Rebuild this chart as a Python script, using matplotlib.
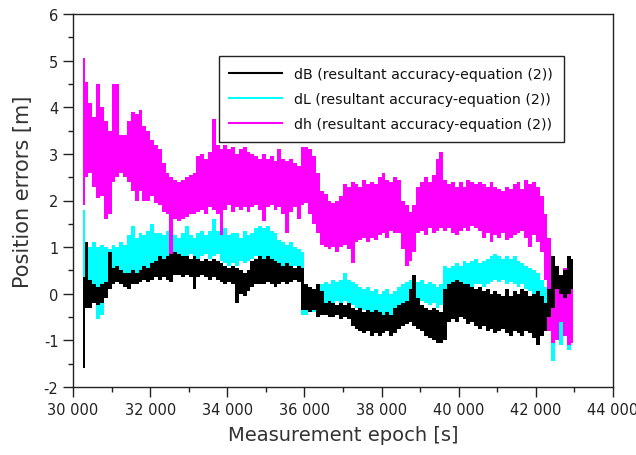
import matplotlib

matplotlib.use("Agg")
import matplotlib.pyplot as plt
import numpy as np
from matplotlib.lines import Line2D
from matplotlib.ticker import FuncFormatter, MultipleLocator

plt.rcParams["font.family"] = ["DejaVu Sans"]

# upper / lower extent of each trace, every 100 s (bins centred on the epoch)
EPOCH_FIRST, EPOCH_STEP = 30250, 100

dB_hi = [0.35, 1.1, 0.3, 0.2, 0.15, 0.2, 0.25, 0.9, 0.55, 0.6,
         0.5, 0.45, 0.45, 0.5, 0.45, 0.5, 0.6, 0.55, 0.65, 0.7,
         0.8, 0.75, 0.8, 0.85, 0.9, 0.85, 0.8, 0.8, 0.75, 0.8,
         0.75, 0.7, 0.75, 0.7, 0.75, 0.7, 0.65, 0.6, 0.55, 0.6,
         0.55, 0.5, 0.45, 0.5, 0.7, 0.75, 0.8, 0.75, 0.8, 0.75,
         0.7, 0.65, 0.6, 0.65, 0.6, 0.55, 0.6, 0.55, 0.2, 0.15,
         0.1, 0.2, 0.05, -0.2, -0.15, -0.2, -0.25, -0.2, -0.25, -0.2,
         -0.3, -0.35, -0.3, -0.4, -0.35, -0.4, -0.35, -0.4, -0.45, -0.4,
         -0.45, -0.3, -0.25, -0.2, -0.15, 0.1, 0.4, -0.1, -0.25, -0.3,
         -0.35, -0.3, -0.35, -0.4, 0.1, 0.2, 0.25, 0.3, 0.25, 0.2,
         0.2, 0.15, 0.1, 0.15, 0.05, 0.1, 0.0, 0.05, 0.0, -0.05,
         0.1, -0.05, 0.05, 0.0, 0.1, 0.05, -0.05, 0.0, 0.05, -0.05,
         -0.2, 0.1, 0.8, 0.6, 0.4, 0.5, 0.8, 0.75]
dB_lo = [-1.6, -0.3, -0.3, -0.2, -0.25, -0.2, -0.1, 0.1, 0.2, 0.25,
         0.2, 0.15, 0.1, 0.2, 0.2, 0.25, 0.3, 0.25, 0.3, 0.35,
         0.3, 0.35, 0.3, 0.25, 0.4, 0.4, 0.35, 0.4, 0.35, 0.1,
         0.35, 0.4, 0.35, 0.3, 0.35, 0.3, 0.25, 0.2, 0.25, 0.2,
         -0.2, 0.0, -0.05, 0.05, 0.15, 0.2, 0.2, 0.2, 0.25, 0.2,
         0.15, 0.2, 0.25, 0.2, 0.25, 0.3, 0.25, -0.35, -0.35, -0.4,
         -0.35, -0.5, -0.45, -0.45, -0.5, -0.5, -0.45, -0.55, -0.5, -0.55,
         -0.7, -0.75, -0.8, -0.85, -0.8, -0.9, -0.85, -0.9, -0.85, -0.8,
         -0.9, -0.85, -0.75, -0.7, -0.65, -0.6, -0.7, -0.75, -0.8, -0.9,
         -0.95, -1.0, -1.05, -1.05, -1.0, -0.6, -0.55, -0.6, -0.5, -0.55,
         -0.65, -0.6, -0.7, -0.75, -0.7, -0.8, -0.75, -0.85, -0.8, -0.75,
         -0.85, -0.9, -0.8, -0.85, -0.9, -0.8, -0.85, -0.95, -1.1, -0.9,
         -0.8, -0.5, -0.3, 0.1, 0.0, -0.1, 0.0, 0.1]

dL_hi = [1.8, 1.05, 1.0, 1.1, 1.0, 1.05, 1.0, 0.95, 1.05, 1.0,
         1.1, 1.05, 1.25, 1.45, 1.2, 1.3, 1.25, 1.35, 1.5, 1.3,
         1.3, 1.25, 1.35, 1.2, 1.25, 1.2, 1.3, 1.45, 1.25, 1.2,
         1.3, 1.35, 1.25, 1.35, 1.6, 1.35, 1.3, 1.4, 1.25, 1.3,
         1.3, 1.2, 1.35, 1.25, 1.3, 1.4, 1.45, 1.4, 1.45, 1.35,
         1.3, 1.15, 1.1, 1.05, 1.1, 1.0, 0.95, 0.9, 0.2, 0.15,
         0.1, 0.15, 0.2, 0.25, 0.2, 0.3, 0.25, 0.3, 0.45, 0.3,
         0.25, 0.2, 0.15, 0.1, 0.15, 0.05, 0.1, 0.0, 0.05, 0.1,
         0.0, 0.05, 0.15, 0.2, 0.25, 0.3, 0.35, 0.25, 0.3, 0.2,
         0.25, 0.2, 0.15, 0.2, 0.6, 0.55, 0.6, 0.65, 0.6, 0.7,
         0.65, 0.7, 0.75, 0.65, 0.7, 0.75, 0.8, 0.85, 0.8, 0.75,
         0.8, 0.75, 0.8, 0.7, 0.65, 0.6, 0.55, 0.5, 0.45, 0.3,
         0.15, 0.0, -0.2, -0.3, -0.4, -0.3, -0.5, -0.4]
dL_lo = [-1.15, 0.0, -0.1, -0.2, -0.55, -0.45, -0.1, 0.1, 0.3, 0.25,
         0.3, 0.3, 0.25, 0.35, 0.3, 0.4, 0.45, 0.5, 0.45, 0.5,
         0.55, 0.6, 0.55, 0.65, 0.75, 0.8, 0.75, 0.8, 0.85, 0.8,
         0.75, 0.8, 0.85, 0.75, 0.8, 0.85, 0.7, 0.65, 0.6, 0.65,
         0.6, 0.7, 0.65, 0.7, 0.75, 0.8, 0.8, 0.75, 0.8, 0.75,
         0.7, 0.65, 0.6, 0.6, 0.55, 0.6, 0.55, -0.45, -0.45, -0.35,
         -0.4, -0.3, -0.3, -0.2, -0.25, -0.2, -0.15, -0.2, -0.15, -0.2,
         -0.25, -0.3, -0.3, -0.35, -0.35, -0.4, -0.4, -0.45, -0.5, -0.55,
         -0.6, -0.55, -0.5, -0.45, -0.35, -0.3, -0.25, -0.2, -0.15, -0.2,
         -0.25, -0.2, -0.3, -0.25, 0.1, 0.05, 0.1, 0.1, 0.05, 0.15,
         0.1, 0.15, 0.2, 0.2, 0.15, 0.2, 0.25, 0.3, 0.25, 0.3,
         0.2, 0.25, 0.2, 0.15, 0.2, 0.1, 0.05, 0.0, -0.05, -0.1,
         -0.3, -0.6, -1.45, -1.0, -1.1, -0.9, -1.2, -1.0]

dh_hi = [5.05, 4.55, 4.1, 3.8, 4.5, 4.0, 3.7, 3.5, 4.5, 4.5,
         3.4, 3.4, 3.7, 3.9, 3.85, 3.95, 3.6, 3.5, 3.3, 3.2,
         3.1, 2.8, 2.6, 2.5, 2.45, 2.4, 2.45, 2.5, 2.55, 2.6,
         2.95, 3.0, 2.9, 3.05, 3.75, 3.2, 3.1, 3.2, 3.1, 3.15,
         3.0, 3.1, 3.15, 3.05, 3.0, 2.95, 2.9, 3.0, 2.9, 2.95,
         2.85, 3.1, 2.9, 2.85, 2.9, 2.8, 2.75, 3.15, 3.15, 3.1,
         2.95, 2.6, 2.2, 2.15, 2.0, 1.95, 2.0, 2.1, 2.35, 2.3,
         2.4, 2.35, 2.3, 2.45, 2.35, 2.4, 2.35, 2.5, 2.6, 2.45,
         2.4, 2.5, 2.45, 2.0, 1.9, 1.75, 1.9, 2.3, 2.4, 2.5,
         2.4, 2.55, 2.9, 3.05, 2.45, 2.35, 2.4, 2.3, 2.4, 2.3,
         2.45, 2.4, 2.35, 2.4, 2.35, 2.3, 2.4, 2.3, 2.25, 2.2,
         2.3, 2.25, 2.35, 2.4, 2.25, 2.45, 2.35, 2.4, 2.3, 2.1,
         1.7, 1.2, 0.6, 0.5, 0.4, 0.55, 0.45, 0.5]
dh_lo = [1.9, 2.5, 2.6, 2.3, 2.05, 2.1, 1.6, 1.7, 2.4, 2.5,
         2.6, 2.5, 2.4, 2.2, 2.0, 2.2, 2.0, 2.0, 2.1, 1.95,
         1.9, 1.75, 1.7, 0.8, 1.6, 1.55, 1.6, 1.65, 1.7, 1.7,
         1.75, 1.8, 1.7, 1.85, 1.8, 1.7, 1.25, 1.8, 1.9, 1.75,
         1.85, 1.8, 1.85, 1.75, 1.85, 1.9, 1.8, 1.55, 1.85, 1.9,
         1.8, 1.85, 1.7, 1.3, 1.75, 1.85, 1.6, 1.9, 1.95, 1.7,
         1.5, 1.3, 1.05, 1.0, 0.95, 1.0, 0.9, 1.0, 1.05, 0.95,
         0.65, 1.1, 1.15, 1.2, 1.1, 1.2, 1.15, 1.25, 1.3, 1.2,
         1.35, 1.3, 1.3, 0.95, 0.6, 0.7, 0.9, 1.3, 1.35, 1.25,
         1.4, 1.3, 1.35, 1.4, 1.35, 1.4, 1.3, 1.25, 1.35, 1.4,
         1.35, 1.45, 1.4, 1.35, 1.2, 1.3, 1.1, 1.25, 1.2, 1.3,
         1.15, 1.2, 1.25, 1.3, 1.35, 1.2, 1.0, 1.25, 1.1, 0.9,
         0.3, -0.8, -1.05, -1.0, -0.6, -0.9, -1.1, -1.05]

LABELS = ["dB (resultant accuracy-equation (2))",
          "dL (resultant accuracy-equation (2))",
          "dh (resultant accuracy-equation (2))"]
COLORS = ["#000000", "#00ffff", "#ff00ff"]


def main():
    epoch = EPOCH_FIRST + EPOCH_STEP * np.arange(len(dB_hi))

    fig = plt.figure(figsize=(6.36, 4.56), dpi=100)
    ax = fig.add_axes([73 / 636, 1 - 388 / 456, 540 / 636, 373 / 456])

    # drawing order seen in the figure: dL underneath, dh over it, dB on top
    series = [(dL_lo, dL_hi, COLORS[1], 2), (dh_lo, dh_hi, COLORS[2], 3), (dB_lo, dB_hi, COLORS[0], 4)]
    for lo, hi, col, z in series:
        ax.fill_between(epoch, lo, hi, step="mid", color=col, lw=0, zorder=z)

    ax.set_xlim(30000, 44000)
    ax.set_ylim(-2, 6)
    ax.xaxis.set_major_locator(MultipleLocator(2000))
    ax.xaxis.set_minor_locator(MultipleLocator(1000))
    ax.yaxis.set_major_locator(MultipleLocator(1))
    ax.yaxis.set_minor_locator(MultipleLocator(0.5))
    ax.xaxis.set_major_formatter(FuncFormatter(lambda v, _: f"{int(v):,}".replace(",", " ")))
    ax.yaxis.set_major_formatter(FuncFormatter(lambda v, _: f"{int(v)}"))
    ax.tick_params(which="both", direction="out", top=False, right=False,
                   labelsize=10.5, labelcolor="#222222", color="#222222")
    ax.tick_params(which="major", length=7, width=1)
    ax.tick_params(which="minor", length=3.5, width=1)
    for s in ax.spines.values():
        s.set_linewidth(1.0)
        s.set_color("#222222")

    ax.set_xlabel("Measurement epoch [s]", fontsize=14, color="#333333", labelpad=6)
    ax.set_ylabel("Position errors [m]", fontsize=15, color="#333333")
    ax.yaxis.set_label_coords(-0.074, 0.525)

    handles = [Line2D([], [], color=c, lw=1.5) for c in COLORS]
    leg = ax.legend(handles, LABELS, loc="upper right", bbox_to_anchor=(0.909, 0.887),
                    prop={"size": 10.2}, frameon=True, fancybox=False,
                    framealpha=1, edgecolor="#222222", handlelength=3.7, handletextpad=0.9,
                    labelspacing=0.8, borderpad=0.75, borderaxespad=0)
    leg.get_frame().set_linewidth(1.0)
    leg.set_zorder(10)
    for t in leg.get_texts():
        t.set_color("#111111")

    fig.savefig("out.png", dpi=100)


if __name__ == "__main__":
    main()
